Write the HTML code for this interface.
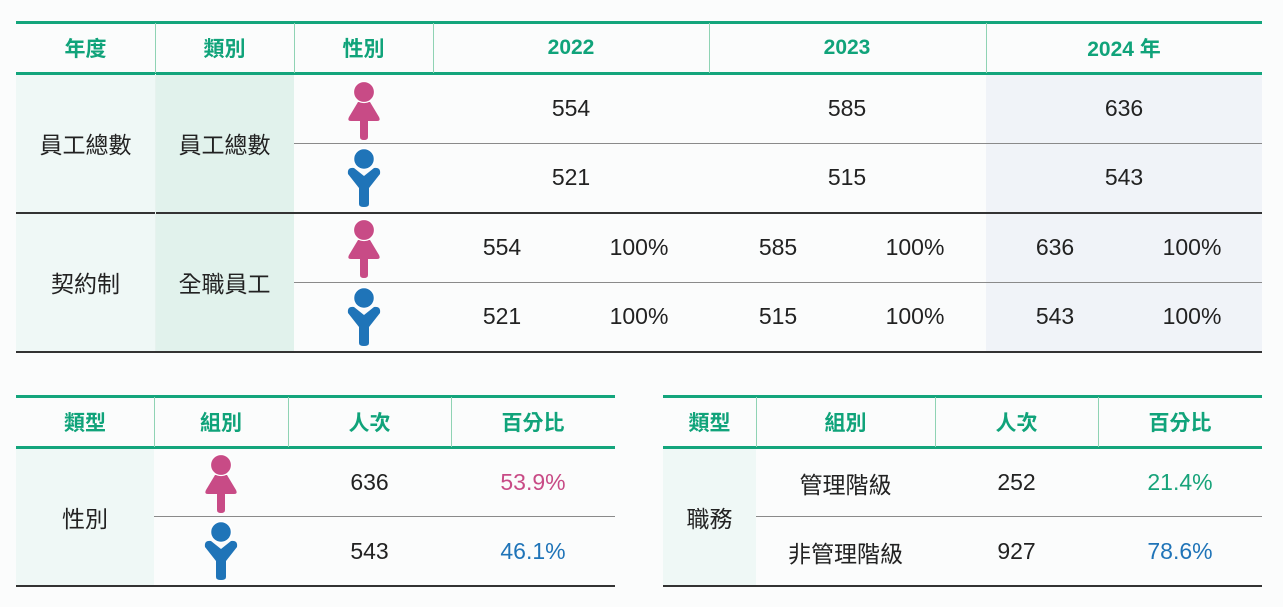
<!DOCTYPE html>
<html><head><meta charset="utf-8">
<style>
body{margin:0;background:#fbfcfc;width:1283px;height:607px;overflow:hidden;position:relative;font-family:"Liberation Sans","Noto Sans CJK TC",sans-serif}
.c{position:absolute;display:flex;align-items:center;justify-content:center;font-size:23px;color:#222}
.h{font-weight:bold;color:#10a37a;font-size:21px}
.bg{position:absolute}
</style></head><body>
<div id="root"></div>
<script>
const root=document.getElementById('root');
const years=['2022','2023','2024 年'];
const female=[554,585,636];
const male=[521,515,543];
const pct=['100%','100%','100%'];
const genderCount=[636,543];
const genderPct=['53.9%','46.1%'];
const roleNames=['管理階級','非管理階級'];
const roleCount=[252,927];
const rolePct=['21.4%','78.6%'];
function box(x,y,w,h,bg,name){const d=document.createElement('div');d.className='bg';d.style.cssText=`left:${x}px;top:${y}px;width:${w}px;height:${h}px;background:${bg}`;


root.appendChild(d);}
function txt(x,y,w,h,s,cls,name,color){const d=document.createElement('div');d.className='c '+cls;d.style.cssText=`left:${x}px;top:${y}px;width:${w}px;height:${h}px;`+(color?`color:${color}`:'');d.textContent=s;


root.appendChild(d);}
function icon(cx,top,fem,name){const s=document.createElementNS('http://www.w3.org/2000/svg','svg');s.setAttribute('width','36');s.setAttribute('height','60');s.setAttribute('viewBox','0 0 36 60');s.style.cssText=`position:absolute;left:${cx-18}px;top:${top}px`;
if(fem){s.innerHTML='<path d="M12 21 L24 21 L33 36 Q35 40 31 40 L22 40 L22 56 Q22 59 18 59 Q14 59 14 56 L14 40 L5 40 Q1 40 3 36 Z" fill="#c84b86"/><circle cx="18" cy="11" r="10.5" fill="#c84b86" stroke="#fff" stroke-width="1.2"/>';}
else{s.innerHTML='<path d="M2 26 Q1 19 8 20 L18 28 L28 20 Q35 19 34 26 L23 40 L23 56 Q23 59 18 59 Q13 59 13 56 L13 40 Z" fill="#1f74b8"/><circle cx="18" cy="11" r="10.5" fill="#1f74b8" stroke="#fff" stroke-width="1.5"/>';}


root.appendChild(s);}
const G='#13a57c',LG='#8fd3b4',GR='#8a8a8a',DK='#333';
box(16,74,139,277,'#eff8f6','col-year-bg');
box(155,74,139,277,'#e1f2ec','col-type-bg');
box(986,74,276,277,'#f0f3f8','col-2024-bg');
box(16,21,1246,3,G,'top-border');
box(16,72,1246,3,G,'header-border');
[155,294,433,709,986].forEach(x=>box(x,23,1,50,LG,'header-divider'));
box(294,143,968,1,GR,'row-divider');
box(16,212,1246,1.5,DK,'group-divider');
box(294,282,968,1,GR,'row-divider');
box(16,351,1246,1.5,DK,'bottom-border');
box(155,74,1,277,'#e6f2ee','col-divider');
txt(16,23,139,50,'年度','h','header-year');
txt(155,23,139,50,'類別','h','header-type');
txt(294,23,139,50,'性別','h','header-gender');
const yx=[433,709,986];
years.forEach((y,i)=>txt(yx[i],23,276,50,y,'h','header-year-'+i));
txt(16,74,139,138,'員工總數','','label-total');
txt(155,74,139,138,'員工總數','','label-total-type');
txt(16,213,139,138,'契約制','','label-contract');
txt(155,213,139,138,'全職員工','','label-fulltime');
icon(364,81,true,'female-icon');icon(364,148,false,'male-icon');
icon(364,219,true,'female-icon');icon(364,287,false,'male-icon');
years.forEach((y,i)=>{
 txt(yx[i],74,276,69,String(female[i]),'','total-female-'+i);
 txt(yx[i],143,276,69,String(male[i]),'','total-male-'+i);
 txt(yx[i]+19,213,100,69,String(female[i]),'','ft-female-'+i);
 txt(yx[i]+156,213,100,69,pct[i],'','ft-female-pct-'+i);
 txt(yx[i]+19,282,100,69,String(male[i]),'','ft-male-'+i);
 txt(yx[i]+156,282,100,69,pct[i],'','ft-male-pct-'+i);
});
box(16,447,138,139,'#eff8f6','gender-type-bg');
box(16,395,599,3,G,'bl-top-border');
box(16,446,599,3,G,'bl-header-border');
[154,288,451].forEach(x=>box(x,397,1,50,LG,'bl-header-divider'));
box(154,516,461,1,GR,'bl-row-divider');
box(16,585,599,1.5,DK,'bl-bottom-border');
txt(16,397,138,50,'類型','h','bl-header-type');
txt(154,397,134,50,'組別','h','bl-header-group');
txt(288,397,163,50,'人次','h','bl-header-count');
txt(451,397,164,50,'百分比','h','bl-header-pct');
txt(16,448,138,138,'性別','','label-gender');
icon(221,454,true,'female-icon');icon(221,521,false,'male-icon');
const pc=['#c84b86','#1f74b8'];
genderCount.forEach((v,i)=>{txt(288,448+i*69,163,69,String(v),'','gender-count-'+i);txt(451,448+i*69,164,69,genderPct[i],'','gender-pct-'+i,pc[i]);});
box(663,447,93,139,'#eff8f6','role-type-bg');
box(663,395,599,3,G,'br-top-border');
box(663,446,599,3,G,'br-header-border');
[756,935,1098].forEach(x=>box(x,397,1,50,LG,'br-header-divider'));
box(756,516,506,1,GR,'br-row-divider');
box(663,585,599,1.5,DK,'br-bottom-border');
txt(663,397,93,50,'類型','h','br-header-type');
txt(756,397,179,50,'組別','h','br-header-group');
txt(935,397,163,50,'人次','h','br-header-count');
txt(1098,397,164,50,'百分比','h','br-header-pct');
txt(663,448,93,138,'職務','','label-role');
const rc=['#17a37a','#1f74b8'];
roleNames.forEach((n,i)=>{txt(756,448+i*69,179,69,n,'','role-name-'+i);txt(935,448+i*69,163,69,String(roleCount[i]),'','role-count-'+i);txt(1098,448+i*69,164,69,rolePct[i],'','role-pct-'+i,rc[i]);});
</script>
</body></html>
